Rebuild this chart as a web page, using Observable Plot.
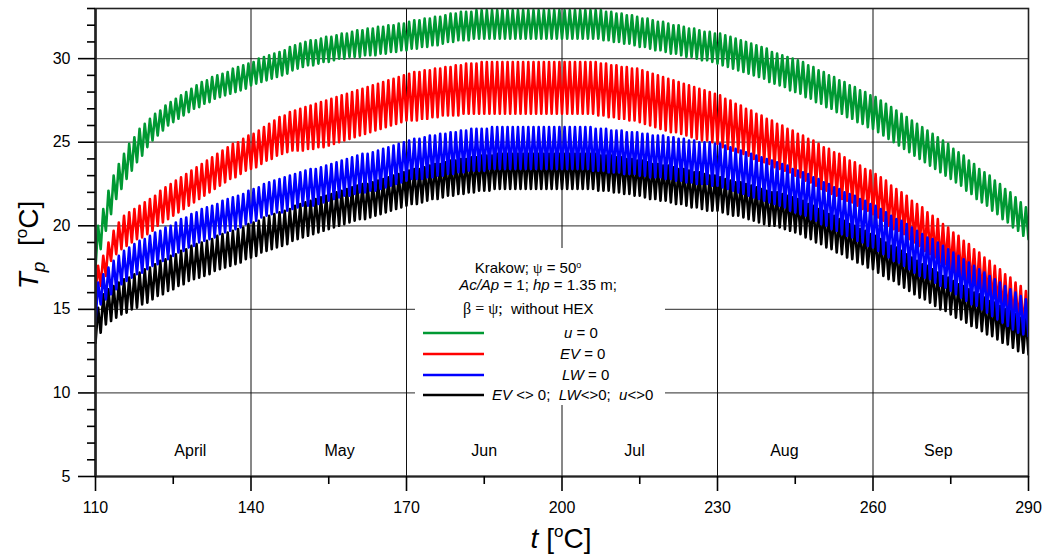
<!DOCTYPE html>
<html>
<head>
<meta charset="utf-8">
<script src="https://cdn.jsdelivr.net/npm/d3@7"></script>
<script src="https://cdn.jsdelivr.net/npm/@observablehq/plot@0.6"></script>
<style>
  html, body { margin: 0; padding: 0; background: #fff; }
  #chart { width: 1043px; height: 555px; }
</style>
</head>
<body>
<div id="chart"></div>
<script>
// Pond temperature T_p, Krakow, day 110 to day 290.
// Each day: night minimum (lows, at the start of the day) and afternoon maximum (highs).
const firstDay = 110;

const uZeroHighs = [
  20.0, 21.0, 22.1, 23.0, 23.7, 24.3, 24.9, 25.3, 25.8, 26.1,
  26.4, 26.7, 26.9, 27.2, 27.4, 27.6, 27.8, 28.0, 28.2, 28.4,
  28.6, 28.7, 28.9, 29.0, 29.1, 29.2, 29.4, 29.5, 29.6, 29.7,
  29.8, 30.0, 30.1, 30.2, 30.3, 30.4, 30.5, 30.7, 30.8, 30.9,
  31.0, 31.1, 31.1, 31.2, 31.3, 31.3, 31.4, 31.5, 31.5, 31.6,
  31.7, 31.7, 31.8, 31.8, 31.9, 31.9, 32.0, 32.0, 32.1, 32.1,
  32.2, 32.3, 32.3, 32.4, 32.4, 32.5, 32.5, 32.6, 32.7, 32.7,
  32.8, 32.8, 32.8, 32.9, 32.9, 32.9, 32.9, 32.9, 32.9, 32.9,
  32.9, 32.9, 32.9, 32.9, 32.9, 32.9, 32.9, 32.9, 32.9, 32.9,
  32.9, 32.9, 32.9, 32.9, 32.9, 32.9, 32.9, 32.9, 32.8, 32.8,
  32.7, 32.7, 32.6, 32.6, 32.5, 32.4, 32.4, 32.3, 32.2, 32.2,
  32.1, 32.0, 32.0, 31.9, 31.8, 31.8, 31.7, 31.6, 31.6, 31.5,
  31.5, 31.4, 31.3, 31.2, 31.1, 31.0, 30.9, 30.8, 30.7, 30.6,
  30.4, 30.3, 30.2, 30.1, 30.0, 29.9, 29.8, 29.6, 29.5, 29.3,
  29.2, 29.0, 28.9, 28.7, 28.6, 28.4, 28.3, 28.1, 28.0, 27.8,
  27.7, 27.5, 27.3, 27.1, 26.9, 26.7, 26.5, 26.3, 26.1, 25.9,
  25.7, 25.5, 25.3, 25.1, 24.9, 24.6, 24.4, 24.2, 23.9, 23.7,
  23.4, 23.2, 23.0, 22.7, 22.5, 22.2, 22.0, 21.7, 21.4, 21.1
];
const uZeroLows = [
  17.5, 18.6, 19.7, 20.7, 21.6, 22.2, 22.8, 23.3, 23.8, 24.2,
  24.7, 25.1, 25.4, 25.7, 26.0, 26.2, 26.4, 26.6, 26.8, 27.0,
  27.1, 27.3, 27.4, 27.6, 27.7, 27.8, 27.9, 28.0, 28.1, 28.2,
  28.4, 28.5, 28.6, 28.7, 28.8, 28.9, 29.0, 29.1, 29.3, 29.4,
  29.5, 29.6, 29.6, 29.7, 29.8, 29.8, 29.9, 30.0, 30.0, 30.1,
  30.1, 30.1, 30.2, 30.2, 30.2, 30.3, 30.3, 30.4, 30.4, 30.5,
  30.5, 30.6, 30.6, 30.7, 30.7, 30.8, 30.8, 30.9, 31.0, 31.0,
  31.1, 31.1, 31.1, 31.2, 31.2, 31.2, 31.2, 31.2, 31.2, 31.2,
  31.2, 31.2, 31.2, 31.2, 31.2, 31.2, 31.2, 31.2, 31.2, 31.2,
  31.2, 31.2, 31.2, 31.2, 31.2, 31.2, 31.2, 31.2, 31.1, 31.1,
  31.0, 31.0, 30.9, 30.9, 30.8, 30.7, 30.7, 30.6, 30.5, 30.5,
  30.4, 30.3, 30.3, 30.2, 30.1, 30.1, 30.0, 29.9, 29.9, 29.8,
  29.7, 29.6, 29.5, 29.4, 29.3, 29.2, 29.1, 29.0, 28.9, 28.8,
  28.6, 28.5, 28.4, 28.3, 28.1, 28.0, 27.9, 27.7, 27.6, 27.4,
  27.3, 27.1, 27.0, 26.8, 26.7, 26.5, 26.4, 26.2, 26.1, 25.9,
  25.8, 25.6, 25.4, 25.2, 25.0, 24.8, 24.6, 24.4, 24.2, 24.0,
  23.8, 23.6, 23.4, 23.2, 23.0, 22.8, 22.6, 22.4, 22.1, 21.9,
  21.6, 21.4, 21.2, 20.9, 20.7, 20.4, 20.2, 19.9, 19.7, 19.4,
  19.2
];

const evZeroHighs = [
  17.6, 18.2, 19.0, 19.7, 20.2, 20.6, 20.8, 21.0, 21.2, 21.4,
  21.6, 21.8, 22.1, 22.3, 22.5, 22.7, 22.9, 23.1, 23.3, 23.5,
  23.7, 23.9, 24.1, 24.3, 24.5, 24.7, 24.9, 25.0, 25.2, 25.4,
  25.5, 25.7, 25.9, 26.1, 26.3, 26.5, 26.6, 26.8, 26.9, 27.0,
  27.1, 27.2, 27.3, 27.4, 27.5, 27.6, 27.7, 27.8, 27.9, 28.0,
  28.1, 28.2, 28.3, 28.4, 28.5, 28.6, 28.7, 28.8, 28.9, 29.0,
  29.1, 29.2, 29.2, 29.3, 29.3, 29.4, 29.4, 29.5, 29.5, 29.6,
  29.6, 29.7, 29.7, 29.7, 29.8, 29.8, 29.8, 29.8, 29.8, 29.8,
  29.8, 29.8, 29.8, 29.8, 29.8, 29.8, 29.8, 29.8, 29.8, 29.8,
  29.8, 29.8, 29.8, 29.8, 29.8, 29.8, 29.8, 29.7, 29.7, 29.6,
  29.6, 29.5, 29.5, 29.4, 29.4, 29.3, 29.2, 29.1, 29.0, 28.9,
  28.8, 28.7, 28.6, 28.5, 28.4, 28.3, 28.2, 28.1, 28.0, 27.9,
  27.8, 27.6, 27.5, 27.3, 27.2, 27.0, 26.9, 26.7, 26.6, 26.4,
  26.3, 26.1, 26.0, 25.8, 25.7, 25.5, 25.4, 25.2, 25.1, 24.9,
  24.7, 24.6, 24.4, 24.3, 24.1, 23.9, 23.8, 23.6, 23.4, 23.3,
  23.1, 22.9, 22.7, 22.4, 22.2, 22.0, 21.8, 21.5, 21.3, 21.1,
  20.8, 20.6, 20.4, 20.1, 19.9, 19.6, 19.4, 19.1, 18.9, 18.6,
  18.4, 18.1, 17.9, 17.6, 17.4, 17.1, 16.9, 16.6, 16.4, 16.1
];
const evZeroLows = [
  16.0, 16.4, 17.0, 17.9, 18.3, 18.6, 18.8, 19.0, 19.2, 19.3,
  19.5, 19.7, 20.0, 20.2, 20.4, 20.6, 20.8, 21.0, 21.2, 21.4,
  21.6, 21.8, 22.0, 22.2, 22.4, 22.6, 22.8, 22.9, 23.1, 23.3,
  23.4, 23.5, 23.7, 23.9, 24.0, 24.2, 24.3, 24.4, 24.5, 24.5,
  24.5, 24.6, 24.6, 24.7, 24.7, 24.8, 24.9, 25.0, 25.1, 25.2,
  25.3, 25.4, 25.5, 25.6, 25.7, 25.8, 25.9, 26.0, 26.1, 26.2,
  26.3, 26.3, 26.3, 26.4, 26.4, 26.5, 26.5, 26.6, 26.6, 26.6,
  26.6, 26.7, 26.7, 26.7, 26.7, 26.7, 26.7, 26.7, 26.7, 26.7,
  26.7, 26.7, 26.7, 26.7, 26.7, 26.7, 26.7, 26.7, 26.7, 26.7,
  26.7, 26.7, 26.7, 26.7, 26.7, 26.7, 26.7, 26.6, 26.6, 26.5,
  26.5, 26.4, 26.4, 26.3, 26.3, 26.2, 26.1, 26.0, 25.9, 25.8,
  25.7, 25.6, 25.6, 25.5, 25.4, 25.3, 25.2, 25.1, 25.1, 25.0,
  24.9, 24.7, 24.6, 24.5, 24.4, 24.3, 24.2, 24.0, 23.9, 23.8,
  23.7, 23.5, 23.4, 23.3, 23.2, 23.0, 22.9, 22.7, 22.6, 22.4,
  22.2, 22.1, 21.9, 21.8, 21.6, 21.5, 21.4, 21.2, 21.0, 20.9,
  20.7, 20.5, 20.3, 20.0, 19.8, 19.7, 19.5, 19.2, 19.0, 18.8,
  18.5, 18.3, 18.1, 17.8, 17.7, 17.4, 17.2, 16.9, 16.7, 16.4,
  16.2, 15.9, 15.7, 15.4, 15.2, 14.9, 14.7, 14.4, 14.2, 13.9,
  13.7
];

const lwZeroHighs = [
  16.6, 17.1, 17.5, 17.9, 18.2, 18.5, 18.7, 18.9, 19.1, 19.2,
  19.4, 19.6, 19.7, 19.9, 20.0, 20.2, 20.4, 20.5, 20.7, 20.8,
  21.0, 21.1, 21.2, 21.3, 21.5, 21.6, 21.7, 21.8, 21.9, 22.1,
  22.2, 22.3, 22.5, 22.6, 22.7, 22.8, 22.9, 23.0, 23.1, 23.2,
  23.3, 23.4, 23.4, 23.5, 23.6, 23.7, 23.8, 23.9, 24.0, 24.1,
  24.2, 24.3, 24.3, 24.4, 24.5, 24.6, 24.7, 24.8, 24.9, 25.0,
  25.1, 25.2, 25.2, 25.3, 25.4, 25.4, 25.5, 25.5, 25.6, 25.6,
  25.7, 25.7, 25.8, 25.8, 25.8, 25.8, 25.9, 25.9, 25.9, 25.9,
  25.9, 25.9, 25.9, 25.9, 25.9, 25.9, 25.9, 25.9, 25.9, 25.9,
  25.9, 25.9, 25.9, 25.9, 25.9, 25.9, 25.8, 25.8, 25.8, 25.7,
  25.7, 25.7, 25.6, 25.6, 25.6, 25.5, 25.5, 25.4, 25.4, 25.4,
  25.3, 25.3, 25.2, 25.2, 25.1, 25.1, 25.0, 25.0, 25.0, 24.9,
  24.9, 24.8, 24.7, 24.6, 24.5, 24.4, 24.3, 24.2, 24.1, 24.0,
  23.9, 23.8, 23.7, 23.6, 23.4, 23.3, 23.2, 23.1, 22.9, 22.8,
  22.6, 22.5, 22.3, 22.2, 22.0, 21.9, 21.8, 21.6, 21.5, 21.3,
  21.2, 21.0, 20.8, 20.6, 20.4, 20.3, 20.1, 19.9, 19.7, 19.5,
  19.3, 19.2, 19.0, 18.8, 18.6, 18.4, 18.2, 18.0, 17.8, 17.6,
  17.4, 17.2, 17.0, 16.8, 16.6, 16.4, 16.2, 16.0, 15.8, 15.6
];
const lwZeroLows = [
  14.3, 15.3, 15.6, 15.9, 16.2, 16.5, 16.7, 16.9, 17.1, 17.2,
  17.4, 17.6, 17.7, 17.9, 18.0, 18.2, 18.4, 18.5, 18.7, 18.8,
  19.0, 19.1, 19.2, 19.3, 19.5, 19.6, 19.7, 19.8, 19.9, 20.1,
  20.2, 20.3, 20.5, 20.6, 20.7, 20.8, 20.8, 20.9, 21.0, 21.1,
  21.2, 21.2, 21.2, 21.3, 21.4, 21.5, 21.6, 21.7, 21.8, 21.8,
  21.9, 22.0, 22.0, 22.1, 22.1, 22.2, 22.3, 22.4, 22.5, 22.6,
  22.7, 22.8, 22.8, 22.8, 22.9, 22.9, 23.0, 23.0, 23.1, 23.1,
  23.2, 23.2, 23.3, 23.3, 23.3, 23.3, 23.4, 23.4, 23.4, 23.4,
  23.4, 23.4, 23.4, 23.4, 23.4, 23.4, 23.4, 23.4, 23.4, 23.4,
  23.4, 23.4, 23.4, 23.4, 23.4, 23.4, 23.3, 23.3, 23.3, 23.2,
  23.2, 23.2, 23.1, 23.1, 23.1, 23.0, 23.0, 22.9, 22.9, 22.9,
  22.8, 22.8, 22.7, 22.7, 22.6, 22.6, 22.5, 22.5, 22.5, 22.4,
  22.4, 22.3, 22.2, 22.1, 22.0, 21.9, 21.8, 21.7, 21.6, 21.5,
  21.4, 21.3, 21.2, 21.1, 20.9, 20.8, 20.7, 20.6, 20.4, 20.3,
  20.1, 20.0, 19.8, 19.7, 19.5, 19.4, 19.3, 19.1, 19.0, 18.8,
  18.7, 18.5, 18.3, 18.1, 17.9, 17.8, 17.6, 17.4, 17.2, 17.0,
  16.9, 16.8, 16.6, 16.4, 16.3, 16.1, 15.9, 15.7, 15.5, 15.3,
  15.2, 15.0, 14.8, 14.6, 14.4, 14.2, 14.0, 13.8, 13.6, 13.5,
  13.4
];

const allNonZeroHighs = [
  15.1, 15.9, 16.2, 16.4, 16.6, 16.8, 16.9, 17.1, 17.2, 17.4,
  17.5, 17.7, 17.9, 18.0, 18.2, 18.3, 18.5, 18.6, 18.8, 18.9,
  19.0, 19.1, 19.2, 19.4, 19.5, 19.6, 19.7, 19.8, 19.9, 20.1,
  20.2, 20.3, 20.5, 20.6, 20.7, 20.8, 20.9, 21.0, 21.2, 21.3,
  21.4, 21.5, 21.6, 21.7, 21.8, 21.9, 22.0, 22.1, 22.2, 22.3,
  22.4, 22.5, 22.5, 22.6, 22.7, 22.8, 22.9, 23.0, 23.1, 23.2,
  23.3, 23.4, 23.4, 23.5, 23.6, 23.7, 23.7, 23.8, 23.9, 23.9,
  24.0, 24.0, 24.1, 24.1, 24.2, 24.2, 24.2, 24.3, 24.3, 24.3,
  24.3, 24.3, 24.3, 24.3, 24.3, 24.3, 24.3, 24.3, 24.3, 24.3,
  24.3, 24.3, 24.3, 24.3, 24.3, 24.3, 24.3, 24.2, 24.2, 24.2,
  24.1, 24.1, 24.0, 24.0, 23.9, 23.9, 23.8, 23.7, 23.7, 23.6,
  23.6, 23.5, 23.4, 23.4, 23.3, 23.2, 23.2, 23.1, 23.0, 23.0,
  22.9, 22.8, 22.7, 22.6, 22.6, 22.5, 22.4, 22.3, 22.2, 22.1,
  22.0, 22.0, 21.9, 21.8, 21.7, 21.6, 21.5, 21.3, 21.2, 21.0,
  20.9, 20.7, 20.6, 20.4, 20.3, 20.1, 20.0, 19.8, 19.7, 19.5,
  19.4, 19.2, 19.0, 18.8, 18.7, 18.5, 18.3, 18.1, 17.9, 17.7,
  17.6, 17.4, 17.2, 17.0, 16.9, 16.7, 16.5, 16.4, 16.2, 16.0,
  15.9, 15.7, 15.5, 15.4, 15.2, 15.0, 14.9, 14.7, 14.5, 14.4
];
const allNonZeroLows = [
  13.0, 13.6, 14.1, 14.3, 14.5, 14.7, 14.8, 15.0, 15.1, 15.3,
  15.4, 15.6, 15.8, 15.9, 16.1, 16.2, 16.4, 16.5, 16.7, 16.8,
  16.9, 17.0, 17.1, 17.3, 17.4, 17.5, 17.6, 17.7, 17.8, 18.0,
  18.1, 18.2, 18.4, 18.5, 18.6, 18.7, 18.8, 18.9, 19.1, 19.2,
  19.3, 19.4, 19.5, 19.6, 19.7, 19.8, 19.9, 20.0, 20.1, 20.2,
  20.3, 20.4, 20.4, 20.5, 20.6, 20.7, 20.8, 20.9, 21.0, 21.1,
  21.2, 21.3, 21.3, 21.4, 21.5, 21.6, 21.6, 21.7, 21.8, 21.8,
  21.9, 21.9, 22.0, 22.0, 22.1, 22.1, 22.1, 22.2, 22.2, 22.2,
  22.2, 22.2, 22.2, 22.2, 22.2, 22.2, 22.2, 22.2, 22.2, 22.2,
  22.2, 22.2, 22.2, 22.2, 22.2, 22.2, 22.2, 22.1, 22.1, 22.1,
  22.0, 22.0, 21.9, 21.9, 21.8, 21.8, 21.7, 21.6, 21.6, 21.5,
  21.5, 21.4, 21.3, 21.3, 21.2, 21.1, 21.1, 21.0, 20.9, 20.9,
  20.9, 20.8, 20.7, 20.6, 20.6, 20.5, 20.4, 20.3, 20.2, 20.1,
  20.0, 20.0, 19.9, 19.8, 19.7, 19.6, 19.5, 19.3, 19.2, 19.0,
  18.9, 18.7, 18.6, 18.4, 18.3, 18.1, 18.0, 17.8, 17.7, 17.5,
  17.4, 17.2, 17.0, 16.8, 16.7, 16.5, 16.3, 16.1, 15.9, 15.7,
  15.6, 15.4, 15.2, 15.0, 14.9, 14.7, 14.5, 14.4, 14.2, 14.0,
  13.9, 13.7, 13.5, 13.4, 13.2, 13.0, 12.9, 12.7, 12.5, 12.4,
  12.3
];

// Series names and colours (legend order)
const seriesNames = ["u = 0", "EV = 0", "LW = 0", "EV <> 0;  LW<>0;  u<>0"];
const seriesColors = ["#009933", "#ff0000", "#0000ff", "#000000"];

// Axis ticks and month labels
const xMajorTicks = [110, 140, 170, 200, 230, 260, 290];
const xMinorTicks = [125, 155, 185, 215, 245, 275];
const yMajorTicks = [5, 10, 15, 20, 25, 30];
const yMinorTicks = [6, 7, 8, 9, 11, 12, 13, 14, 16, 17, 18, 19, 21, 22, 23, 24, 26, 27, 28, 29, 31, 32, 33];
const monthNames = ["April", "May", "Jun", "Jul", "Aug", "Sep"];
const monthDays = [128.3, 157.1, 185.0, 214.0, 242.9, 272.6];
const monthLabelTemp = 6.55;

// Build the daily zigzag: minimum at the start of each day, maximum half a day later.
function dailyCycle(name, lows, highs) {
  const rows = [];
  lows.forEach((lo, i) => {
    rows.push({series: name, t: firstDay + i, T: lo});
    if (i < highs.length) rows.push({series: name, t: firstDay + i + 0.5, T: highs[i]});
  });
  return rows;
}
const cycles = [
  dailyCycle(seriesNames[0], uZeroLows, uZeroHighs),
  dailyCycle(seriesNames[1], evZeroLows, evZeroHighs),
  dailyCycle(seriesNames[2], lwZeroLows, lwZeroHighs),
  dailyCycle(seriesNames[3], allNonZeroLows, allNonZeroHighs)
];
// drawing order: green, red, black, blue on top
const drawOrder = [0, 1, 3, 2];
const months = monthNames.map((m, i) => ({name: m, t: monthDays[i], T: monthLabelTemp}));

const font = "'Liberation Sans', Arial, sans-serif";
const chart = Plot.plot({
  width: 1043,
  height: 555,
  marginLeft: 95,
  marginRight: 15,
  marginTop: 8,
  marginBottom: 79,
  x: {domain: [110, 290]},
  y: {domain: [5, 33]},
  style: {fontFamily: font, fontSize: "16px", color: "#000", background: "#fff"},
  marks: [
    Plot.gridY(yMajorTicks.filter(v => v > 5), {stroke: "#555", strokeOpacity: 1, strokeWidth: 1.3}),
    Plot.gridX(xMajorTicks.filter(v => v > 110 && v < 290), {stroke: "#111", strokeOpacity: 1, strokeWidth: 1}),
    ...drawOrder.map(k => Plot.line(cycles[k], {
      x: "t", y: "T", stroke: seriesColors[k], strokeWidth: 2.6, clip: true
    })),
    Plot.text(months, {x: "t", y: "T", text: "name", fontSize: 16, fill: "#000"}),
    Plot.frame({stroke: "#222", strokeWidth: 1.6}),
    Plot.ruleX([110], {stroke: "#222", strokeWidth: 2.6}),
    Plot.ruleY([5], {stroke: "#222", strokeWidth: 2}),
    Plot.axisY(yMajorTicks, {tickSize: 17, tickPadding: 8, strokeWidth: 1.6, fontSize: 16, label: null}),
    Plot.axisY(yMinorTicks, {tickSize: 8, strokeWidth: 1.6, tickFormat: () => "", label: null}),
    Plot.axisX(xMajorTicks, {tickSize: 15, tickPadding: 10, strokeWidth: 1.6, fontSize: 16, label: null}),
    Plot.axisX(xMinorTicks, {tickSize: 8, strokeWidth: 1.6, tickFormat: () => "", label: null})
  ]
});
document.getElementById("chart").append(chart);

const svg = d3.select(chart);

// Axis titles
const xTitle = svg.append("text")
  .attr("x", 561).attr("y", 548)
  .attr("text-anchor", "middle")
  .style("font-family", font).style("font-size", "28px").attr("fill", "#000");
xTitle.append("tspan").style("font-style", "italic").text("t");
xTitle.append("tspan").style("white-space", "pre").text(" [");
xTitle.append("tspan").attr("dy", -11).style("font-size", "17px").text("o");
xTitle.append("tspan").attr("dy", 11).text("C]");

const yTitle = svg.append("text")
  .attr("transform", "translate(38,245) rotate(-90)")
  .attr("text-anchor", "middle")
  .style("font-family", font).style("font-size", "28px").attr("fill", "#000");
yTitle.append("tspan").style("font-style", "italic").text("T");
yTitle.append("tspan").attr("dy", 7).style("font-style", "italic").style("font-size", "19px").text("p");
yTitle.append("tspan").attr("dy", -7).style("white-space", "pre").text("  [");
yTitle.append("tspan").attr("dy", -11).style("font-size", "17px").text("o");
yTitle.append("tspan").attr("dy", 11).text("C]");

// Legend box inside the plot area
const legend = svg.append("g")
  .attr("text-anchor", "start")
  .style("font-family", font).style("font-size", "15px").attr("fill", "#000");
legend.append("rect").attr("x", 415).attr("y", 248).attr("width", 250).attr("height", 157).attr("fill", "#fff");

const head1 = legend.append("text").attr("x", 528).attr("y", 273).attr("text-anchor", "middle");
head1.append("tspan").style("white-space", "pre").text("Krakow; ");
head1.append("tspan").style("font-family", "'Liberation Serif', serif").text("\u03C8");
head1.append("tspan").style("white-space", "pre").text(" = 50");
head1.append("tspan").attr("dy", -5).style("font-size", "9px").text("o");

const head2 = legend.append("text").attr("x", 538).attr("y", 290).attr("text-anchor", "middle");
head2.append("tspan").style("font-style", "italic").text("Ac/Ap");
head2.append("tspan").style("white-space", "pre").text(" = 1; ");
head2.append("tspan").style("font-style", "italic").text("hp");
head2.append("tspan").style("white-space", "pre").text(" = 1.35 m;");

const head3 = legend.append("text").attr("x", 463).attr("y", 314).attr("text-anchor", "start");
head3.append("tspan").style("font-family", "'Liberation Serif', serif").style("font-size", "16px")
  .style("white-space", "pre").text("\u03B2 = \u03C8;");
head3.append("tspan").style("white-space", "pre").text("  without HEX");

// legend rows: sample line plus label with italic symbols
const rowY = [333, 354, 375, 395];
const rowX = [564, 560, 562, 492];
const rowParts = [
  [["u", true], [" = 0", false]],
  [["EV", true], [" = 0", false]],
  [["LW", true], [" = 0", false]],
  [["EV", true], [" <> 0;  ", false], ["LW", true], ["<>0;  ", false], ["u", true], ["<>0", false]]
];
seriesNames.forEach((name, k) => {
  legend.append("line")
    .attr("x1", 423).attr("x2", 484).attr("y1", rowY[k]).attr("y2", rowY[k])
    .attr("stroke", seriesColors[k]).attr("stroke-width", 2.4);
  const label = legend.append("text").attr("x", rowX[k]).attr("y", rowY[k] + 5).attr("text-anchor", "start");
  rowParts[k].forEach(([s, it]) => {
    label.append("tspan").style("white-space", "pre").style("font-style", it ? "italic" : "normal").text(s);
  });
});
</script>
</body>
</html>
